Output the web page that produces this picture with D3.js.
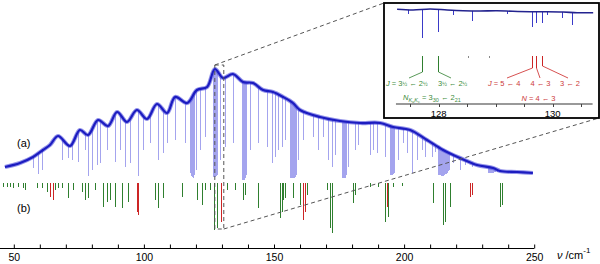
<!DOCTYPE html>
<html>
<head>
<meta charset="utf-8">
<script src="https://cdn.jsdelivr.net/npm/d3@7"></script>
<style>
body { margin: 0; background: #fff; }
svg { display: block; font-family: "Liberation Sans", Arial, sans-serif; }
</style>
</head>
<body>
<svg></svg>
<script>
// trace (a): smooth envelope of the measured spectrum, wavenumber / signal (arb.)
const traceWn = [46.6, 52.4, 57.4, 61.2, 63.9, 67.0, 71.6, 75.4, 78.5, 82.4, 86.2, 89.7, 93.5, 97.3,
    101.2, 105.0, 108.9, 112.0, 116.6, 120.4, 124.3, 127.3, 130.4, 134.2, 138.1, 141.9, 145.8, 149.6,
    153.5, 157.3, 160.0, 167.7, 175.4, 183.1, 190.8, 195.8, 202.3, 208.8, 215.0, 221.5, 228.0, 234.2,
    236.9, 243.4, 249.5];
const traceSig = [18, 22, 28, 35, 40, 49, 39, 55, 50, 65, 59, 73, 63, 75,
    66, 81, 72, 88, 82, 95, 98, 116, 107, 111, 103, 102, 95, 93,
    88, 82, 75, 68, 64, 62, 62, 58, 55, 45, 35, 27, 20, 17,
    14, 13, 12];

// absorption dips in (a): [wavenumber, lowest signal]
const dips = [[57.4, 17], [59.3, 11], [60.8, 15], [68.5, 25], [70.8, 27], [72.4, 25], [74.7, 23],
    [77.4, 35], [78.7, 9], [80.1, 15], [82.0, 20], [83.1, 22], [85.8, 35], [88.9, 23], [90.8, 35],
    [92.7, 18], [94.7, 22], [97.7, 9], [99.7, 35], [102.3, 42], [105.4, 25], [107.3, 32], [108.9, 42],
    [112.0, 45], [115.8, 42], [117.7, 12], [118.1, 9], [118.5, 8], [118.9, 7], [119.3, 10], [120.0, 15],
    [121.6, 35], [123.5, 48], [126.6, 8], [127.0, 8], [127.3, 8], [127.7, 9], [128.1, 10], [129.2, 25],
    [131.2, 38], [134.2, 42], [137.7, 5], [138.1, 5], [138.5, 5], [138.9, 7], [139.3, 10], [140.8, 35],
    [143.9, 42], [147.3, 38], [149.2, 22], [150.4, 28], [151.5, 35], [153.1, 38], [154.2, 45],
    [156.1, 7], [156.5, 7], [156.9, 7], [157.3, 7], [157.7, 7], [158.1, 8], [158.5, 10], [159.2, 25],
    [161.1, 45], [165.0, 48], [166.9, 35], [168.8, 48], [170.8, 25], [172.3, 18], [173.5, 30],
    [176.1, 7], [176.5, 7], [176.9, 7], [177.3, 7], [177.7, 10], [178.5, 18], [181.2, 35], [182.3, 40],
    [186.9, 30], [188.1, 35], [189.6, 32], [192.7, 28], [194.6, 10], [195.0, 10], [195.4, 10],
    [195.8, 11], [196.2, 12], [197.7, 25], [199.6, 42], [201.1, 32], [203.0, 12], [205.0, 25],
    [206.9, 35], [208.0, 28], [210.7, 28], [211.9, 33], [213.0, 10], [213.4, 10], [213.8, 10],
    [214.2, 9], [214.6, 9], [214.9, 9], [215.3, 10], [215.7, 11], [216.1, 11], [216.5, 12], [216.9, 14],
    [217.3, 15], [218.8, 22], [221.5, 15], [223.4, 20], [226.1, 18], [232.2, 12], [232.6, 12],
    [233.0, 12], [233.4, 12], [233.8, 12], [234.2, 12], [234.5, 13], [235.0, 13], [235.7, 13]];

// stick spectrum (b): [wavenumber, intensity]
const greenSticks = [[45.8, 4], [47.4, 4], [48.5, 4], [49.7, 5], [51.6, 4], [53.5, 5], [54.3, 7],
    [58.9, 5], [60.8, 5], [62.8, 9], [65.8, 7], [67.0, 5], [68.5, 5], [70.8, 15], [72.8, 7], [76.2, 9],
    [77.4, 17], [78.5, 15], [81.2, 7], [84.3, 24], [85.8, 19], [87.0, 17], [88.9, 24], [91.6, 25],
    [93.9, 19], [104.3, 17], [105.4, 25], [107.3, 15], [114.6, 14], [120.4, 17], [122.3, 22],
    [123.5, 7], [125.4, 7], [127.0, 47], [128.0, 45], [131.9, 7], [135.0, 7], [138.1, 17], [138.9, 12],
    [143.9, 25], [152.3, 35], [153.1, 29], [153.5, 17], [154.2, 15], [157.3, 15], [160.0, 22],
    [162.7, 12], [170.4, 7], [171.5, 45], [172.3, 50], [180.3, 20], [181.1, 12], [186.9, 4], [190.0, 4],
    [192.7, 39], [193.8, 34], [195.8, 4], [199.2, 3], [211.1, 20], [214.9, 42], [215.7, 39],
    [217.6, 24], [236.9, 24], [237.7, 22]];
const redSticks = [[63.9, 14], [65.1, 17], [97.3, 29], [97.7, 32], [129.7, 39], [161.1, 37],
    [161.9, 29], [193.4, 24], [225.3, 14], [226.1, 12]];

const axisTicks = [50, 100, 150, 200, 250];

// inset: zoom on 127.25 - 130.7 cm-1
const zoomRange = [127.25, 130.7];
const insetWn = [127.27, 127.55, 127.85, 128.15, 128.43, 128.72, 129.02, 129.30, 129.60, 129.90,
    130.18, 130.43, 130.71];
const insetSig = [30.7, 30, 31, 30, 29.3, 29, 29.3, 28.7, 28.3, 28.3, 28, 27.3, 27.3];
const insetDips = [[127.47, 26], [127.71, 2], [127.99, 8], [128.25, 25], [128.58, 19], [129.2, 26],
    [129.63, 13], [129.70, 17], [129.82, 17], [129.9, 25], [130.17, 22], [130.34, 15]];
const insetGreen = [127.71, 127.99];
const insetRed = [129.63, 129.70, 129.82];
const insetGrey = [128.52, 128.88];
const insetTicks = [127.5, 128, 128.5, 129, 129.5, 130, 130.5];
const insetLabels = [128, 130];

const width = 600;
const height = 264;
const blue = "#1c1cc0";
const green = "#2f7f2f";
const red = "#cc2525";
const px = v => Math.round(v) + 0.5;   // keep 1px lines sharp

const svg = d3.select("svg")
    .attr("width", width)
    .attr("height", height);

const x = d3.scaleLinear().domain([50, 250]).range([13.8, 534.2]);
const yA = d3.scaleLinear().domain([0, 120]).range([185, 65]);
const yB = d3.scaleLinear().domain([0, 50]).range([183, 233]);
const baseAt = d3.scaleLinear().domain(traceWn).range(traceSig).clamp(true);

// --- (a) dips, then trace on top
svg.append("g").selectAll("line")
    .data(dips)
    .enter()
    .append("line")
    .attr("x1", d => px(x(d[0])))
    .attr("x2", d => px(x(d[0])))
    .attr("y1", d => yA(baseAt(d[0])))
    .attr("y2", d => yA(d[1]))
    .attr("stroke", "#5a5ae0")
    .attr("stroke-opacity", 0.55)
    .attr("stroke-width", 1);

const trace = d3.zip(traceWn, traceSig);
const line = d3.line()
    .x(d => x(d[0]))
    .y(d => yA(d[1]))
    .curve(d3.curveCatmullRom);

svg.append("path")
    .attr("d", line(trace))
    .attr("fill", "none")
    .attr("stroke", "#4b4bdc")
    .attr("stroke-opacity", 0.6)
    .attr("stroke-width", 4.2);
svg.append("path")
    .attr("d", line(trace))
    .attr("fill", "none")
    .attr("stroke", blue)
    .attr("stroke-width", 2.2);

// --- (b) sticks
svg.append("g").selectAll("line")
    .data(greenSticks)
    .enter()
    .append("line")
    .attr("x1", d => px(x(d[0])))
    .attr("x2", d => px(x(d[0])))
    .attr("y1", yB(0))
    .attr("y2", d => yB(d[1]))
    .attr("stroke", green)
    .attr("stroke-width", 1);

svg.append("g").selectAll("line")
    .data(redSticks)
    .enter()
    .append("line")
    .attr("x1", d => px(x(d[0])))
    .attr("x2", d => px(x(d[0])))
    .attr("y1", yB(0))
    .attr("y2", d => yB(d[1]))
    .attr("stroke", red)
    .attr("stroke-width", 1);

svg.append("text").attr("x", 17).attr("y", 147).attr("font-size", 11).text("(a)");
svg.append("text").attr("x", 17).attr("y", 212).attr("font-size", 11).text("(b)");

// --- x axis
const axisY = 248;
const axis = d3.axisBottom(x)
    .tickValues(d3.range(50, 251, 10))
    .tickSizeInner(-4)
    .tickSizeOuter(0)
    .tickPadding(5)
    .tickFormat(d => axisTicks.includes(d) ? d : "");

const gx = svg.append("g")
    .attr("transform", `translate(0,${axisY + 0.5})`)
    .call(axis);
gx.select(".domain").remove();
gx.selectAll("text").attr("font-size", 10.5).attr("font-family", "Liberation Sans, Arial, sans-serif");
gx.append("line")
    .attr("x1", 0).attr("x2", x(250))
    .attr("stroke", "#000").attr("stroke-width", 1);

const unit = svg.append("text")
    .attr("x", 557)
    .attr("y", 259)
    .attr("font-size", 11);
unit.append("tspan").attr("font-style", "italic").text("ν");
unit.append("tspan").text(" /cm");
unit.append("tspan").attr("font-size", 8).attr("dy", -6).text("-1");

// --- zoom marker (dashed)
const dash = "4,3";
const zx0 = x(zoomRange[0]);
const zx1 = x(zoomRange[1]);
const zTop = yA(120);
const zBot = yB(46);
const box = { x0: 384, y0: 3, x1: 599, y1: 118 };

const dashed = svg.append("g")
    .attr("fill", "none")
    .attr("stroke", "#555")
    .attr("stroke-width", 1)
    .attr("stroke-dasharray", dash);
dashed.append("rect")
    .attr("x", zx0).attr("y", zTop)
    .attr("width", zx1 - zx0).attr("height", zBot - zTop);
dashed.append("line")
    .attr("x1", zx0).attr("y1", zTop)
    .attr("x2", box.x0).attr("y2", box.y0);
dashed.append("line")
    .attr("x1", zx1).attr("y1", zBot)
    .attr("x2", box.x1).attr("y2", box.y1);

// --- inset
svg.append("rect")
    .attr("x", box.x0).attr("y", box.y0)
    .attr("width", box.x1 - box.x0).attr("height", box.y1 - box.y0)
    .attr("fill", "#fff")
    .attr("stroke", "#000")
    .attr("stroke-width", 1.8);

const xi = d3.scaleLinear().domain([128, 130]).range([438.7, 552.7]);
const yI = d3.scaleLinear().domain([0, 40]).range([40, 0]);
const insetBase = d3.scaleLinear().domain(insetWn).range(insetSig).clamp(true);

svg.append("g").selectAll("line")
    .data(insetDips)
    .enter()
    .append("line")
    .attr("x1", d => px(xi(d[0])))
    .attr("x2", d => px(xi(d[0])))
    .attr("y1", d => yI(insetBase(d[0])))
    .attr("y2", d => yI(d[1]))
    .attr("stroke", "#3a3ac8")
    .attr("stroke-width", 1);

svg.append("path")
    .attr("d", d3.line()
        .x(d => xi(d[0]))
        .y(d => yI(d[1]))
        .curve(d3.curveCatmullRom)(d3.zip(insetWn, insetSig)))
    .attr("fill", "none")
    .attr("stroke", "#23238f")
    .attr("stroke-width", 1.6);

// inset axis
const iAxisY = 104;
svg.append("line")
    .attr("x1", xi(zoomRange[0])).attr("x2", xi(zoomRange[1]))
    .attr("y1", iAxisY).attr("y2", iAxisY)
    .attr("stroke", "#999").attr("stroke-width", 2);
svg.append("g").selectAll("line")
    .data(insetTicks)
    .enter()
    .append("line")
    .attr("x1", d => px(xi(d))).attr("x2", d => px(xi(d)))
    .attr("y1", iAxisY).attr("y2", iAxisY + 3)
    .attr("stroke", "#444").attr("stroke-width", 1);
svg.append("g").selectAll("text")
    .data(insetLabels)
    .enter()
    .append("text")
    .attr("x", d => xi(d))
    .attr("y", 116.5)
    .attr("text-anchor", "middle")
    .attr("font-size", 9.5)
    .text(d => d);

// inset assignment sticks
const stickTop = 56;
svg.append("g").selectAll("line")
    .data(insetGreen)
    .enter()
    .append("line")
    .attr("x1", d => px(xi(d))).attr("x2", d => px(xi(d)))
    .attr("y1", stickTop).attr("y2", 72)
    .attr("stroke", green).attr("stroke-width", 1);
svg.append("g").selectAll("line")
    .data(insetRed)
    .enter()
    .append("line")
    .attr("x1", d => px(xi(d))).attr("x2", d => px(xi(d)))
    .attr("y1", stickTop).attr("y2", (d, i) => i < 2 ? 68 : 66)
    .attr("stroke", red).attr("stroke-width", 1);
svg.append("g").selectAll("line")
    .data(insetGrey)
    .enter()
    .append("line")
    .attr("x1", d => px(xi(d))).attr("x2", d => px(xi(d)))
    .attr("y1", stickTop).attr("y2", stickTop + 2)
    .attr("stroke", "#888").attr("stroke-width", 1);

// leader lines from sticks to labels
const greenLeaders = [[127.71, 72, 409, 78], [127.99, 72, 451, 78]];
const redLeaders = [[129.63, 68, 507, 78], [129.70, 68, 540, 78], [129.82, 66, 568, 78]];
svg.append("g").selectAll("line")
    .data(greenLeaders)
    .enter()
    .append("line")
    .attr("x1", d => px(xi(d[0]))).attr("y1", d => d[1])
    .attr("x2", d => d[2]).attr("y2", d => d[3])
    .attr("stroke", green).attr("stroke-width", 0.8);
svg.append("g").selectAll("line")
    .data(redLeaders)
    .enter()
    .append("line")
    .attr("x1", d => px(xi(d[0]))).attr("y1", d => d[1])
    .attr("x2", d => d[2]).attr("y2", d => d[3])
    .attr("stroke", red).attr("stroke-width", 0.8);

const lab = svg.append("g").attr("font-size", 7.5);
const gCol = "#3c8c3c";
const rCol = "#cc3a3a";
const half = 5.5;

const gJ = lab.append("text").attr("x", 386).attr("y", 86).attr("fill", gCol);
gJ.append("tspan").attr("font-style", "italic").text("J");
gJ.append("tspan").text(" = 3");
gJ.append("tspan").attr("font-size", half).text("½");
gJ.append("tspan").text(" ← 2");
gJ.append("tspan").attr("font-size", half).text("½");

const gJ2 = lab.append("text").attr("x", 438).attr("y", 86).attr("fill", gCol);
gJ2.append("tspan").text("3");
gJ2.append("tspan").attr("font-size", half).text("½");
gJ2.append("tspan").text(" ← 2");
gJ2.append("tspan").attr("font-size", half).text("½");

const gN = lab.append("text").attr("x", 403).attr("y", 100).attr("fill", gCol);
gN.append("tspan").attr("font-style", "italic").text("N");
gN.append("tspan").attr("font-style", "italic").attr("font-size", 5.5).attr("dy", 2).text("K");
gN.append("tspan").attr("font-size", 4).attr("dy", 1).text("a");
gN.append("tspan").attr("font-style", "italic").attr("font-size", 5.5).attr("dy", -1).text("K");
gN.append("tspan").attr("font-size", 4).attr("dy", 1).text("c");
gN.append("tspan").attr("dy", -3).text(" = 3");
gN.append("tspan").attr("font-size", 5.5).attr("dy", 2).text("30");
gN.append("tspan").attr("dy", -2).text(" ← 2");
gN.append("tspan").attr("font-size", 5.5).attr("dy", 2).text("21");

const rJ = lab.append("text").attr("x", 488).attr("y", 86).attr("fill", rCol);
rJ.append("tspan").attr("font-style", "italic").text("J");
rJ.append("tspan").text(" = 5 ← 4");
lab.append("text").attr("x", 540.5).attr("y", 86).attr("text-anchor", "middle").attr("fill", rCol).text("4 ← 3");
lab.append("text").attr("x", 570).attr("y", 86).attr("text-anchor", "middle").attr("fill", rCol).text("3 ← 2");
const rN = lab.append("text").attr("x", 538.5).attr("y", 101).attr("text-anchor", "middle").attr("fill", rCol);
rN.append("tspan").attr("font-style", "italic").text("N");
rN.append("tspan").text(" = 4 ← 3");
</script>
</body>
</html>
